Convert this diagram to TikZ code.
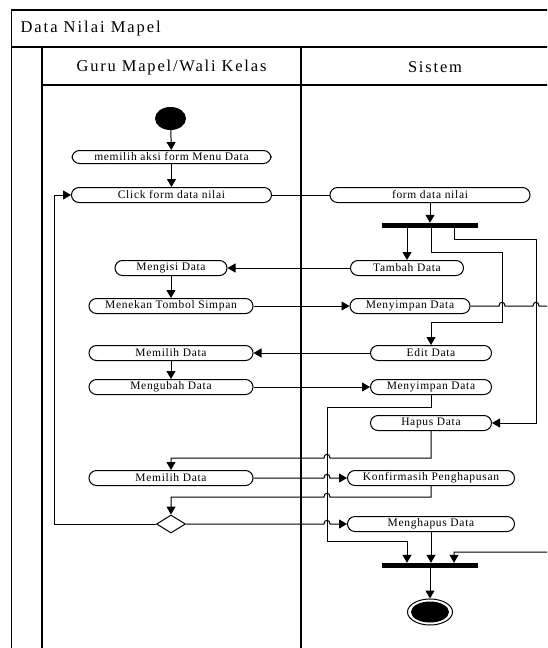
\documentclass[tikz,border=0pt]{standalone}
\usepackage{fontspec}
\setmainfont{Liberation Serif}[LetterSpace=6]
\newfontfamily\titlefont{Liberation Serif}[LetterSpace=12]
\newfontfamily\lanefont{Liberation Serif}[LetterSpace=11]
\usepackage{tikz}
\usetikzlibrary{arrows.meta,shapes.geometric}

\tikzset{
  action/.style={draw, line width=1pt, rounded corners=7.5pt, minimum height=15pt, inner sep=0pt, font=\fontsize{11.5}{12}\selectfont},
  syncbar/.style={fill=black, minimum width=96pt, minimum height=5pt, inner sep=0pt},
  flow/.style={line width=1pt, -{Triangle[length=8pt,width=9pt]}},
  plainline/.style={line width=1pt},
  laneline/.style={line width=1.1pt},
}

\begin{document}
\begin{tikzpicture}[x=1pt, y=-1pt]
\clip (0,0) rectangle (547,648);
\fill[white] (0,0) rectangle (547,648);
\draw[laneline] (11.5,660) -- (11.5,10) -- (580,10);
\draw[laneline] (11.5,47) -- (580,47);
\draw[laneline] (42,660) -- (42,47);
\draw[laneline] (42,85) -- (580,85);
\draw[laneline] (301,47) -- (301,660);
\node[anchor=west, font=\titlefont\fontsize{16.5}{18}\selectfont] (title) at (17,29) {Data Nilai Mapel};
\node[font=\lanefont\fontsize{16.5}{18}\selectfont] (guruLane) at (171.5,67.5) {Guru Mapel/Wali Kelas};
\node[font=\lanefont\fontsize{16.5}{18}\selectfont] (sistemLane) at (435,67.5) {Sistem};

\node[ellipse, fill=black, minimum width=31pt, minimum height=23pt, inner sep=0pt] (start) at (170.5,118.5) {};
\node[action, minimum width=199pt, minimum height=13pt] (pilihMenu) at (171.5,157) {memilih aksi form Menu Data};
\node[action, minimum width=200pt] (clickForm) at (171.5,195) {Click form data nilai};
\node[action, minimum width=200pt] (formNilai) at (430,195) {form data nilai};
\node[syncbar] (fork) at (430,225.5) {};
\node[action, minimum width=113pt] (tambah) at (407,268) {Tambah Data};
\node[action, minimum width=112pt] (mengisi) at (171,268) {Mengisi Data};
\node[action, minimum width=164pt] (menekan) at (171,306) {Menekan Tombol Simpan};
\node[action, minimum width=120pt] (simpanTambah) at (410,306) {Menyimpan Data};
\node[action, minimum width=121pt] (edit) at (431,353) {Edit Data};
\node[action, minimum width=164pt] (pilihEdit) at (171,353) {Memilih Data};
\node[action, minimum width=164pt] (mengubah) at (171,387) {Mengubah Data};
\node[action, minimum width=121pt] (simpanEdit) at (431,387) {Menyimpan Data};
\node[action, minimum width=121pt] (hapus) at (431,423) {Hapus Data};
\node[action, minimum width=164pt] (pilihHapus) at (171,478) {Memilih Data};
\node[action, minimum width=167pt] (konfirmasi) at (431,478) {Konfirmasih Penghapusan};
\node[diamond, draw, line width=1pt, minimum width=29pt, minimum height=18pt, inner sep=0pt] (cek) at (171,524) {};
\node[action, minimum width=167pt] (menghapus) at (431,524) {Menghapus Data};
\node[syncbar] (join) at (430,565.5) {};
\node[ellipse, draw, line width=1pt, minimum width=45pt, minimum height=26pt] (finish) at (430,612) {};
\node[ellipse, fill=black, minimum width=38pt, minimum height=21pt, inner sep=0pt] (finishDot) at (finish) {};

\draw[flow] (start) -- (pilihMenu);
\draw[flow] (pilihMenu) -- (clickForm);
\draw[plainline] (clickForm) -- (formNilai);
\draw[flow] (formNilai) -- (fork);
\draw[flow] (fork.south -| tambah) -- (tambah);
\draw[flow] (fork.south -| edit) -- (431,252) -- (502,252) -- (502,322) -- (431,322) -- (edit);
\draw[flow] ([xshift=24pt]fork.south) -- (454,239) -- (536,239) -- (536,423) -- (hapus);
\draw[flow] (tambah) -- (mengisi);
\draw[flow] (mengisi) -- (menekan);
\draw[flow] (menekan) -- (simpanTambah);
\draw[flow] (simpanTambah) -- (499,306) .. controls (499,301) and (505,301) .. (505,306)
  -- (533,306) .. controls (533,301) and (539,301) .. (539,306)
  -- (570,306) -- (570,552) -- (454,552) -- ([xshift=24pt]join.north);
\draw[flow] (edit) -- (pilihEdit);
\draw[flow] (pilihEdit) -- (mengubah);
\draw[flow] (mengubah) -- (simpanEdit);
\draw[flow] (simpanEdit) -- (431,407) -- (327,407) -- (327,541) -- (407,541) -- ([xshift=-23pt]join.north);
\draw[flow] (hapus) -- (431,458) -- (330,458) .. controls (330,453) and (324,453) .. (324,458) -- (171,458) -- (pilihHapus);
\draw[flow] (pilihHapus) -- (324,478) .. controls (324,473) and (330,473) .. (330,478) -- (konfirmasi);
\draw[flow] (konfirmasi) -- (431,497) -- (330,497) .. controls (330,492) and (324,492) .. (324,497) -- (171,497) -- (cek);
\draw[flow] (cek) -- (324,524) .. controls (324,519) and (330,519) .. (330,524) -- (menghapus);
\draw[flow] (cek) -- (54,524) -- (54,195) -- (clickForm);
\draw[flow] (menghapus) -- (menghapus |- join.north);
\draw[flow] (join) -- (finish);
\end{tikzpicture}
\end{document}
